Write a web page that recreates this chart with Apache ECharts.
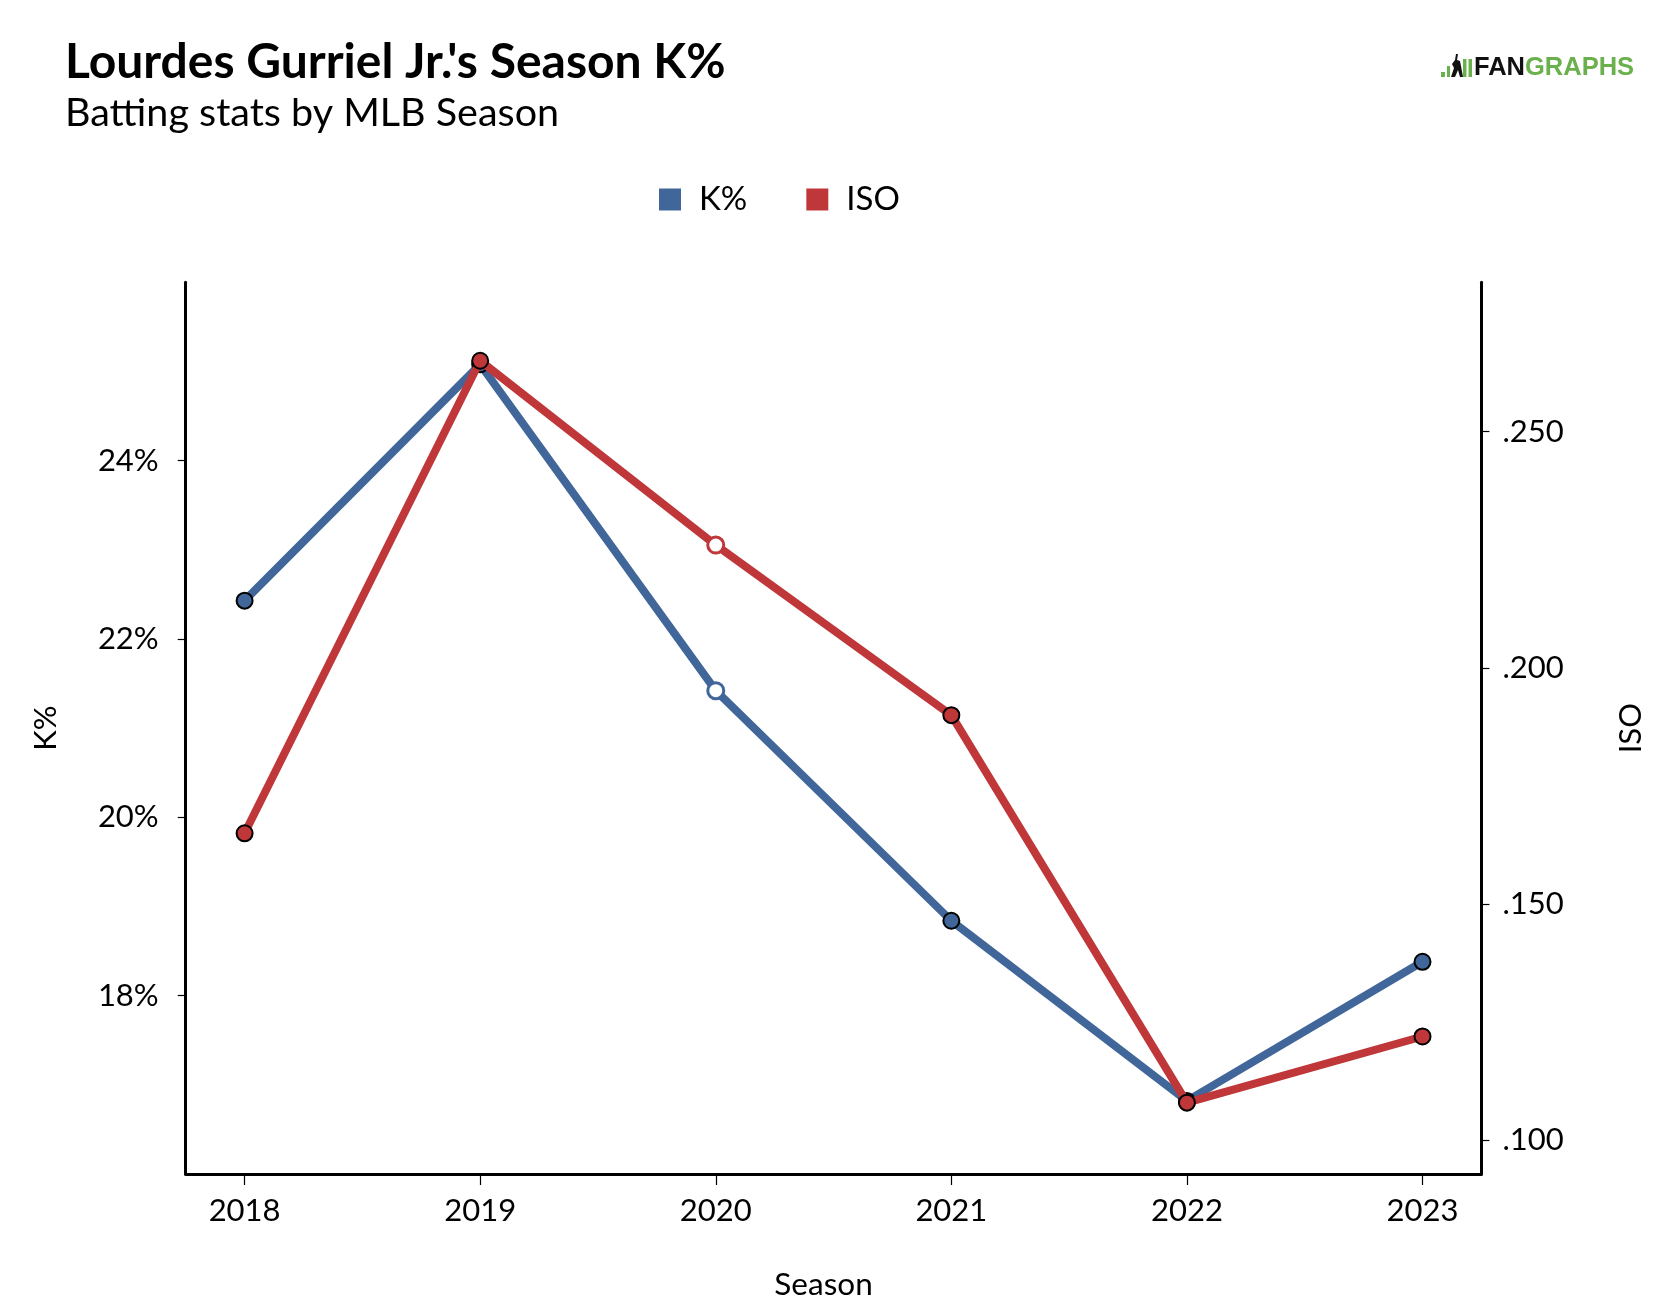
<!DOCTYPE html>
<html>
<head>
<meta charset="utf-8">
<script src="https://cdn.jsdelivr.net/npm/echarts@6/dist/echarts.min.js"></script>
<style>
html,body{margin:0;padding:0;background:#fff;}
#chart{width:1664px;height:1306px;}
</style>
</head>
<body>
<div id="chart"></div>
<script>
// ---- data ----
const seasons = [2018, 2019, 2020, 2021, 2022, 2023];
const kPct = [22.43, 25.08, 21.42, 18.84, 16.82, 18.38];
const iso = [0.165, 0.265, 0.226, 0.190, 0.108, 0.122];
const kTicks = [18, 20, 22, 24];
const isoTicks = [0.100, 0.150, 0.200, 0.250];
const hollowSeason = 2020;

const BLUE = '#41669a';
const RED = '#c0373a';
const FONT = 'Lato';

function pts(vals, color) {
  return vals.map((v, i) => {
    if (seasons[i] === hollowSeason) {
      return { value: [seasons[i], v], itemStyle: { color: '#fff', borderColor: color, borderWidth: 3 } };
    }
    return { value: [seasons[i], v] };
  });
}

const chart = echarts.init(document.getElementById('chart'), null, { renderer: 'canvas' });
const option = {
  backgroundColor: '#fff',
  animation: false,
  textStyle: { fontFamily: FONT, color: '#000' },
  title: [
    { text: "Lourdes Gurriel Jr.'s Season K%", left: 65, top: 37, padding: 0,
      textStyle: { fontFamily: FONT, fontWeight: 'bold', fontSize: 48, lineHeight: 52, color: '#000' } },
    { text: 'Batting stats by MLB Season', left: 65, top: 92, padding: 0,
      textStyle: { fontFamily: FONT, fontWeight: 'normal', fontSize: 39.5, lineHeight: 42, color: '#000' } }
  ],
  legend: {
    left: 654, top: 176.5,
    icon: 'rect', itemWidth: 22, itemHeight: 22, itemGap: 59,
    itemStyle: { borderWidth: 0 },
    textStyle: { fontFamily: FONT, fontSize: 33, lineHeight: 36, color: '#000', padding: [0, 0, 0, 13] },
    data: ['K%', 'ISO']
  },
  grid: { left: 185.7, right: 182.6, top: 282.3, bottom: 130.2, containLabel: false },
  xAxis: {
    type: 'value', min: 2017.75, max: 2023.25,
    name: 'Season', nameLocation: 'middle', nameGap: 95,
    nameTextStyle: { fontFamily: FONT, fontSize: 31.5, color: '#000', padding: [0, 20, 0, 0] },
    axisLine: { show: true, onZero: false, lineStyle: { color: '#000', width: 3 } },
    axisTick: { show: true, customValues: seasons, length: 11, lineStyle: { color: '#000', width: 1.2 } },
    axisLabel: { customValues: seasons, margin: 21, fontFamily: FONT, fontSize: 31, color: '#000', formatter: v => String(v) },
    splitLine: { show: false }
  },
  yAxis: [
    {
      type: 'value', min: 16, max: 26, position: 'left',
      name: 'K%', nameLocation: 'middle', nameGap: 124, nameRotate: 90,
      nameTextStyle: { fontFamily: FONT, fontSize: 31, color: '#000' },
      axisLine: { show: true, lineStyle: { color: '#000', width: 3 } },
      axisTick: { show: true, customValues: kTicks, length: 8, lineStyle: { color: '#000', width: 1.2 } },
      axisLabel: { customValues: kTicks, margin: 27, fontFamily: FONT, fontSize: 31, color: '#000', formatter: v => v + '%' },
      splitLine: { show: false }
    },
    {
      type: 'value', min: 0.0929, max: 0.2816, position: 'right',
      name: 'ISO', nameLocation: 'middle', nameGap: 134, nameRotate: 90,
      nameTextStyle: { fontFamily: FONT, fontSize: 31, color: '#000' },
      axisLine: { show: true, lineStyle: { color: '#000', width: 3 } },
      axisTick: { show: true, customValues: isoTicks, length: 8, lineStyle: { color: '#000', width: 1.2 } },
      axisLabel: { customValues: isoTicks, margin: 21, fontFamily: FONT, fontSize: 31, color: '#000',
        formatter: v => v.toFixed(3).replace(/^0/, '') },
      splitLine: { show: false }
    }
  ],
  series: [
    {
      name: 'K%', type: 'line', yAxisIndex: 0, data: pts(kPct, BLUE),
      color: BLUE, symbol: 'circle', symbolSize: 16, showAllSymbol: true,
      lineStyle: { color: BLUE, width: 8 },
      itemStyle: { color: BLUE, borderColor: '#000', borderWidth: 2 },
      emphasis: { disabled: true }, z: 2
    },
    {
      name: 'ISO', type: 'line', yAxisIndex: 1, data: pts(iso, RED),
      color: RED, symbol: 'circle', symbolSize: 16, showAllSymbol: true,
      lineStyle: { color: RED, width: 8 },
      itemStyle: { color: RED, borderColor: '#000', borderWidth: 2 },
      emphasis: { disabled: true }, z: 3
    }
  ],
  graphic: [
    // FanGraphs logo
    { type: 'rect', shape: { x: 1441, y: 72, width: 4, height: 5 }, style: { fill: '#6ab04c' } },
    { type: 'rect', shape: { x: 1447, y: 66, width: 3, height: 11 }, style: { fill: '#6ab04c' } },
    { type: 'polygon', shape: { points: [[1456,54],[1458,54],[1457,60],[1460,61],[1461,66],[1463,77],[1460,77],[1458,70],[1455,77],[1451,77],[1454,68],[1452,64],[1455,60]] }, style: { fill: '#111' } },
    { type: 'rect', shape: { x: 1463, y: 59, width: 3.5, height: 18 }, style: { fill: '#6ab04c' } },
    { type: 'rect', shape: { x: 1468.5, y: 59, width: 3.5, height: 18 }, style: { fill: '#6ab04c' } },
    { type: 'text', left: 1474, top: 55,
      style: { text: '{a|FAN}{b|GRAPHS}', rich: {
        a: { fontFamily: 'Liberation Sans', fontWeight: 'bold', fontSize: 25.5, fill: '#111' },
        b: { fontFamily: 'Liberation Sans', fontWeight: 'bold', fontSize: 25.5, fill: '#6ab04c' } } } }
  ]
};
chart.setOption(option);
</script>
</body>
</html>
